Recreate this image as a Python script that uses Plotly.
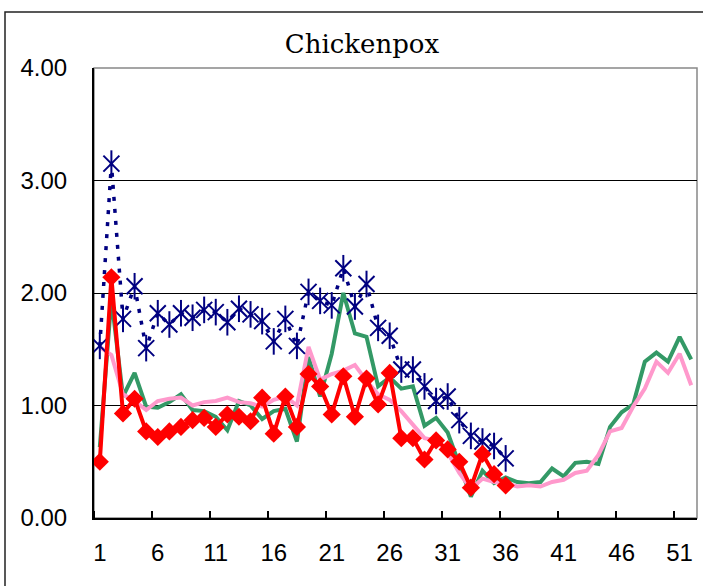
import plotly.graph_objects as go

weeks = list(range(1, 53))
weeks_cur = list(range(1, 37))

navy_vals = [1.53, 3.15, 1.77, 2.06, 1.51, 1.82, 1.72, 1.82, 1.78, 1.85, 1.83, 1.74,
             1.86, 1.81, 1.75, 1.57, 1.77, 1.53, 2.01, 1.93, 1.89, 2.22, 1.88, 2.08,
             1.69, 1.62, 1.32, 1.32, 1.17, 1.04, 1.08, 0.87, 0.73, 0.68, 0.64, 0.53]

red_vals = [0.50, 2.14, 0.93, 1.06, 0.77, 0.72, 0.77, 0.81, 0.87, 0.89, 0.81, 0.92,
            0.90, 0.86, 1.07, 0.75, 1.08, 0.81, 1.28, 1.17, 0.92, 1.26, 0.90, 1.24,
            1.01, 1.29, 0.71, 0.71, 0.52, 0.69, 0.61, 0.50, 0.27, 0.57, 0.39, 0.29]

green_vals = [0.63, 1.95, 1.08, 1.29, 0.99, 0.98, 1.03, 1.10, 0.96, 0.95, 0.90, 0.78,
              1.04, 1.00, 0.88, 0.95, 0.97, 0.68, 1.43, 1.08, 1.46, 2.00, 1.64, 1.61,
              1.17, 1.25, 1.15, 1.17, 0.82, 0.89, 0.76, 0.47, 0.19, 0.42, 0.31, 0.36,
              0.32, 0.31, 0.32, 0.44, 0.37, 0.49, 0.50, 0.48, 0.81, 0.94, 1.01, 1.39,
              1.47, 1.39, 1.61, 1.41]

pink_vals = [1.52, 1.45, 1.10, 1.04, 0.96, 1.04, 1.06, 1.07, 1.00, 1.03, 1.04, 1.07,
             1.03, 1.02, 0.99, 1.05, 1.08, 1.00, 1.52, 1.23, 1.28, 1.31, 1.36, 1.22,
             1.10, 1.05, 0.95, 0.83, 0.71, 0.69, 0.58, 0.40, 0.26, 0.35, 0.32, 0.31,
             0.28, 0.29, 0.28, 0.32, 0.34, 0.40, 0.42, 0.56, 0.77, 0.80, 0.99, 1.15,
             1.39, 1.29, 1.46, 1.18]

x_label_weeks = [1, 6, 11, 16, 21, 26, 31, 36, 41, 46, 51]
y_ticks = [0, 1, 2, 3, 4]
y_grid = [1, 2, 3]
title_text = "Chickenpox"

NAVY = "#000080"
RED = "#FF0000"
GREEN = "#339966"
PINK = "#FF99CC"

fig = go.Figure()
# helper trace so the overlay y axis (gridlines) is drawn
fig.add_trace(go.Scatter(x=[None], y=[None], xaxis="x", yaxis="y2", mode="lines",
                         showlegend=False, hoverinfo="skip"))
fig.add_trace(go.Scatter(x=weeks, y=green_vals, mode="lines",
                         line=dict(color=GREEN, width=4), showlegend=False))
fig.add_trace(go.Scatter(x=weeks, y=pink_vals, mode="lines",
                         line=dict(color=PINK, width=4), showlegend=False))
fig.add_trace(go.Scatter(x=weeks_cur, y=navy_vals, mode="lines+markers",
                         line=dict(color=NAVY, width=3.5, dash="4px,8px"),
                         marker=dict(symbol="x-thin-open", size=16, color=NAVY,
                                     line=dict(color=NAVY, width=2)),
                         showlegend=False))
fig.add_trace(go.Scatter(x=weeks_cur, y=navy_vals, mode="markers",
                         marker=dict(symbol="line-ns-open", size=19, color=NAVY,
                                     line=dict(color=NAVY, width=2)),
                         showlegend=False))
fig.add_trace(go.Scatter(x=weeks_cur, y=red_vals, mode="lines+markers",
                         line=dict(color=RED, width=4),
                         marker=dict(symbol="diamond", size=14, color=RED),
                         showlegend=False))

tick_font = dict(family="Liberation Sans, Arial, sans-serif", size=24, color="black")

fig.update_layout(
    width=703, height=586,
    margin=dict(l=94, r=6, t=68, b=68),
    paper_bgcolor="white", plot_bgcolor="white",
    title=dict(text=title_text, x=362 / 703, xanchor="center",
               y=1 - 44 / 586, yanchor="middle",
               font=dict(family="DejaVu Serif, serif", size=26, color="black")),
    xaxis=dict(range=[0.5, 52.5], tickmode="array", tickvals=x_label_weeks,
               ticktext=[str(w) for w in x_label_weeks], ticks="",
               showgrid=False, zeroline=False, showline=True, linecolor="black",
               linewidth=2, tickfont=tick_font, ticklabelstandoff=12,
               minor=dict(tickmode="array",
                          tickvals=[w - 0.5 for w in x_label_weeks] + [50.5],
                          ticks="inside", ticklen=7, tickwidth=1.5,
                          tickcolor="black", showgrid=False)),
    yaxis=dict(range=[0, 4], tickmode="array", tickvals=y_ticks,
               ticktext=[f"{v:.2f}" for v in y_ticks], ticks="",
               showgrid=False, zeroline=False, showline=True, linecolor="black",
               linewidth=2, tickfont=tick_font, ticklabelstandoff=20),
    yaxis2=dict(range=[0, 4], overlaying="y", anchor="x", side="left",
                tickmode="array", tickvals=y_grid, showticklabels=False, ticks="",
                showgrid=True, gridcolor="black", gridwidth=1, zeroline=False,
                showline=False),
    shapes=[
        dict(type="rect", xref="paper", yref="paper", x0=0, x1=1, y0=0, y1=1,
             line=dict(color="#888888", width=1.5), layer="below"),
        dict(type="rect", xref="paper", yref="paper",
             x0=(5 - 94) / 603, x1=(720 - 94) / 603,
             y0=(518 - 600) / 450, y1=1 + (68 - 12) / 450,
             line=dict(color="#222222", width=1.5), layer="below"),
    ],
)

fig.write_html("out.html", config={"displayModeBar": False},
               post_script="document.body.style.margin='0';document.body.style.overflow='hidden';")
